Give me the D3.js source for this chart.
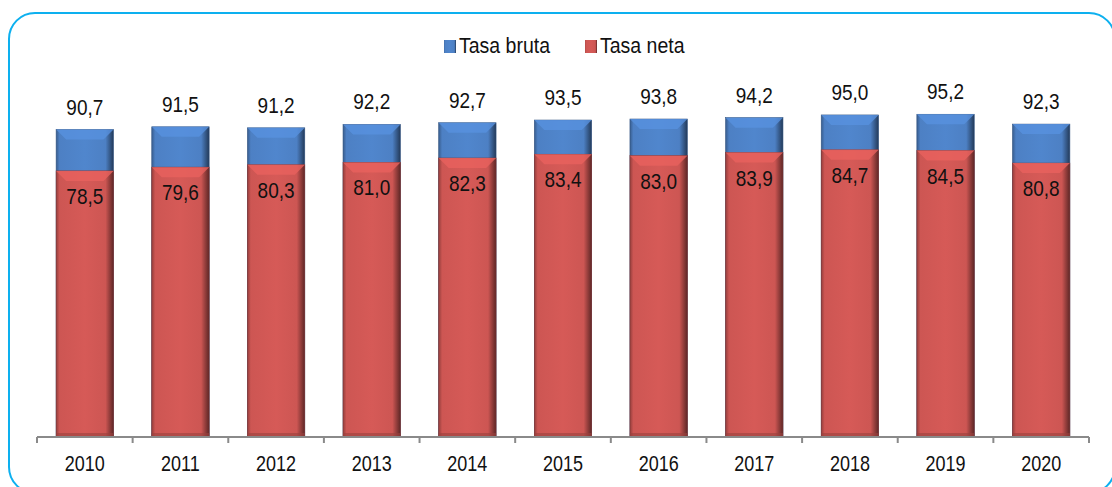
<!DOCTYPE html>
<html>
<head>
<meta charset="utf-8">
<script src="https://cdn.jsdelivr.net/npm/d3@7"></script>
<style>
  body { margin: 0; background: #fff; }
  svg { display: block; font-family: "Liberation Sans", Arial, sans-serif; }
</style>
</head>
<body>
<div id="chart"></div>
<script>
// datos
var anios = ["2010", "2011", "2012", "2013", "2014", "2015", "2016", "2017", "2018", "2019", "2020"];
var tasaBruta = [90.7, 91.5, 91.2, 92.2, 92.7, 93.5, 93.8, 94.2, 95.0, 95.2, 92.3];
var tasaNeta = [78.5, 79.6, 80.3, 81.0, 82.3, 83.4, 83.0, 83.9, 84.7, 84.5, 80.8];
var series = ["Tasa bruta", "Tasa neta"];

var width = 1112, height = 487;

var svg = d3.select("#chart").append("svg")
    .attr("width", width)
    .attr("height", height);

// marco redondeado
svg.append("rect")
    .attr("x", 9).attr("y", 13)
    .attr("width", 1106).attr("height", 480)
    .attr("rx", 26).attr("ry", 26)
    .attr("fill", "none")
    .attr("stroke", "#0db0ef")
    .attr("stroke-width", 2);

var x = d3.scaleBand()
    .domain(anios)
    .range([37, 1089])
    .paddingInner(0.4)
    .paddingOuter(0.2);

var y = d3.scaleLinear()
    .domain([0, 100])
    .range([437, 98]);

// gradientes para el efecto biselado
var defs = svg.append("defs");
function grad(id, c) {
  var g = defs.append("linearGradient").attr("id", id)
      .attr("x1", "0%").attr("x2", "100%").attr("y1", "0%").attr("y2", "0%");
  var base = d3.color(c);
  g.append("stop").attr("offset", "0%").attr("stop-color", base.darker(0.9));
  g.append("stop").attr("offset", "6%").attr("stop-color", base);
  g.append("stop").attr("offset", "50%").attr("stop-color", base.brighter(0.12));
  g.append("stop").attr("offset", "86%").attr("stop-color", base);
  g.append("stop").attr("offset", "100%").attr("stop-color", base.darker(2.2));
}
grad("gBlue", "#4d80c4");
grad("gRed", "#cd5653");

function drawBars(vals, cls, fillId, baseColor) {
  var g = svg.append("g").attr("class", cls);
  var bw = x.bandwidth();
  var cell = g.selectAll("g")
    .data(anios.map(function(a, i) { return { anio: a, v: vals[i] }; }))
    .enter().append("g")
    .attr("transform", function(d) { return "translate(" + x(d.anio) + "," + y(d.v) + ")"; });

  cell.append("rect")
      .attr("width", bw)
      .attr("height", function(d) { return y(0) - y(d.v); })
      .attr("fill", "url(#" + fillId + ")")
      .attr("stroke", d3.color(baseColor).darker(1.2))
      .attr("stroke-width", 0.6);

  // bisel superior
  cell.append("path")
      .attr("d", "M0,0 L" + bw + ",0 L" + (bw - 10) + ",10 L10,10 Z")
      .attr("fill", d3.color(baseColor).brighter(0.35))
      .attr("opacity", 0.8);
  // bisel inferior
  cell.append("rect")
      .attr("y", function(d) { return y(0) - y(d.v) - 4; })
      .attr("width", bw)
      .attr("height", 4)
      .attr("fill", d3.color(baseColor).darker(0.8))
      .attr("opacity", 0.6);
}

drawBars(tasaBruta, "bruta", "gBlue", "#4d80c4");
drawBars(tasaNeta, "neta", "gRed", "#cd5653");

var fmt = function(v) { return d3.format(".1f")(v).replace(".", ","); };

// texto algo estirado en vertical, como en el original
function etiqueta(sel, fx, fy, sy) {
  sel.attr("transform", function(d, i) {
        return "translate(" + fx(d, i) + "," + fy(d, i) + ") scale(1," + sy + ")";
      })
      .attr("text-anchor", "middle")
      .attr("font-size", 19)
      .attr("fill", "#111");
}

// etiquetas
svg.append("g").selectAll("text")
  .data(tasaBruta)
  .enter().append("text")
    .call(etiqueta,
      function(d, i) { return x(anios[i]) + x.bandwidth() / 2; },
      function(d) { return y(d) - 15; }, 1.15)
    .text(fmt);

svg.append("g").selectAll("text")
  .data(tasaNeta)
  .enter().append("text")
    .call(etiqueta,
      function(d, i) { return x(anios[i]) + x.bandwidth() / 2; },
      function(d) { return y(d) + 33; }, 1.15)
    .text(fmt);

// eje x
var axis = svg.append("g")
    .attr("transform", "translate(0,437)");
axis.append("line")
    .attr("x1", 37).attr("x2", 1089)
    .attr("stroke", "#8a8a8a").attr("stroke-width", 2);
var bordes = anios.map(function(a) { return x(a) - x.step() * x.paddingInner() / 2; }).concat([1089]);
axis.selectAll(".tick")
  .data(bordes)
  .enter().append("line")
    .attr("x1", function(d) { return d; }).attr("x2", function(d) { return d; })
    .attr("y1", 0).attr("y2", 6)
    .attr("stroke", "#8a8a8a").attr("stroke-width", 2);
axis.selectAll("text")
  .data(anios)
  .enter().append("text")
    .call(etiqueta,
      function(d) { return x(d) + x.bandwidth() / 2; },
      function() { return 34; }, 1.25)
    .attr("font-size", 18)
    .text(function(d) { return d; });

// leyenda
var leyenda = svg.append("g").attr("transform", "translate(444,37)");
var colores = ["url(#gBlue)", "url(#gRed)"];
var offs = [0, 141];
series.forEach(function(s, i) {
  var it = leyenda.append("g").attr("transform", "translate(" + offs[i] + ",0)");
  it.append("rect")
      .attr("y", 3).attr("width", 12).attr("height", 13)
      .attr("fill", colores[i]);
  it.append("text")
      .attr("transform", "translate(15,16) scale(1,1.12)")
      .attr("font-size", 19.5)
      .attr("fill", "#111")
      .text(s);
});
</script>
</body>
</html>
